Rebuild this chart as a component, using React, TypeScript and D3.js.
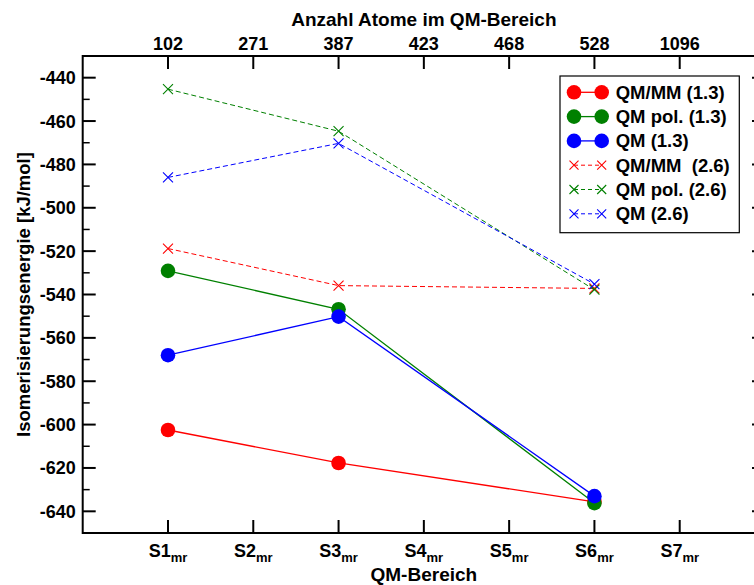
import React from "react";
import * as d3 from "d3";

// QM regions (bottom axis) and atom counts (top axis)
const regions = ["S1", "S2", "S3", "S4", "S5", "S6", "S7"];
const atomCounts = ["102", "271", "387", "423", "468", "528", "1096"];
const yTicks = [-440, -460, -480, -500, -520, -540, -560, -580, -600, -620, -640];

// isomerisation energies (kJ/mol) at S1, S3, S6
const dataRegions = [1, 3, 6];
const qmmm13 = [-602.5, -617.7, -635.6];
const qmpol13 = [-529.1, -546.8, -636.2];
const qm13 = [-568.0, -550.2, -633.0];
const qmmm26 = [-518.8, -535.9, -537.2];
const qmpol26 = [-445.3, -464.7, -537.8];
const qm26 = [-486.0, -470.3, -535.2];

const series = [
  { name: "QM/MM (1.3)", values: qmmm13, color: "#ff0000", dashed: false },
  { name: "QM pol. (1.3)", values: qmpol13, color: "#008000", dashed: false },
  { name: "QM (1.3)", values: qm13, color: "#0000ff", dashed: false },
  { name: "QM/MM  (2.6)", values: qmmm26, color: "#ff0000", dashed: true },
  { name: "QM pol. (2.6)", values: qmpol26, color: "#008000", dashed: true },
  { name: "QM (2.6)", values: qm26, color: "#0000ff", dashed: true },
];

const W = 754;
const H = 585;
const FONT = "'Liberation Sans', Arial, sans-serif";

export default function App() {
  const x = d3.scaleLinear().domain([0, 8]).range([82.7, 765]);
  const y = d3.scaleLinear().domain([-650, -430]).range([533, 56]);
  const minorTicks = d3.range(-650, -429, 10).filter((v) => v % 20 !== 0);
  const line = d3
    .line<[number, number]>()
    .x((d) => x(d[0]))
    .y((d) => y(d[1]));

  const solid = series.filter((s) => !s.dashed);
  const dashed = series.filter((s) => s.dashed);
  const [x0, x1] = x.range();
  const [yb, yt] = y.range();

  const cross = (cx: number, cy: number, r: number, color: string, key: string) => (
    <path
      key={key}
      d={`M${cx - r},${cy - r}L${cx + r},${cy + r}M${cx - r},${cy + r}L${cx + r},${cy - r}`}
      stroke={color}
      strokeWidth={1.1}
      fill="none"
    />
  );

  return (
    <svg
      width={W}
      height={H}
      style={{ position: "absolute", left: 0, top: 0, display: "block" }}
      fontFamily={FONT}
      fontWeight="bold"
    >
      <rect width={W} height={H} fill="#fff" />

      {/* dashed series (2.6) */}
      {dashed.map((s) => (
        <g key={s.name}>
          <path
            d={line(dataRegions.map((r, i) => [r, s.values[i]]) as [number, number][]) || ""}
            fill="none"
            stroke={s.color}
            strokeWidth={1}
            strokeDasharray="5,3"
          />
          {dataRegions.map((r, i) => cross(x(r), y(s.values[i]), 5, s.color, `${s.name}-${i}`))}
        </g>
      ))}

      {/* solid series (1.3) */}
      {solid.map((s) => (
        <g key={s.name}>
          <path
            d={line(dataRegions.map((r, i) => [r, s.values[i]]) as [number, number][]) || ""}
            fill="none"
            stroke={s.color}
            strokeWidth={1.3}
          />
          {dataRegions.map((r, i) => (
            <circle key={i} cx={x(r)} cy={y(s.values[i])} r={7.3} fill={s.color} />
          ))}
        </g>
      ))}

      {/* frame */}
      <rect x={x0} y={yt} width={x1 - x0} height={yb - yt} fill="none" stroke="#000" strokeWidth={2} />

      {/* left / right y ticks */}
      {yTicks.map((v) => (
        <g key={v}>
          <line x1={x0} x2={x0 + 13} y1={y(v)} y2={y(v)} stroke="#000" strokeWidth={2} />
          <line x1={x1} x2={x1 - 13} y1={y(v)} y2={y(v)} stroke="#000" strokeWidth={2} />
          <text x={x0 - 7} y={y(v) + 6.5} textAnchor="end" fontSize={18}>
            {v}
          </text>
        </g>
      ))}
      {minorTicks.map((v) => (
        <g key={`m${v}`}>
          <line x1={x0} x2={x0 + 7} y1={y(v)} y2={y(v)} stroke="#000" strokeWidth={1.5} />
          <line x1={x1} x2={x1 - 7} y1={y(v)} y2={y(v)} stroke="#000" strokeWidth={1.5} />
        </g>
      ))}

      {/* bottom and top x ticks */}
      {regions.map((r, i) => (
        <g key={r}>
          <line x1={x(i + 1)} x2={x(i + 1)} y1={yb} y2={yb - 13} stroke="#000" strokeWidth={2} />
          <line x1={x(i + 1)} x2={x(i + 1)} y1={yt} y2={yt + 13} stroke="#000" strokeWidth={2} />
          <text x={x(i + 1)} y={557} textAnchor="middle" fontSize={18}>
            {r}
            <tspan fontSize={13} dy={5}>
              mr
            </tspan>
          </text>
          <text x={x(i + 1)} y={50} textAnchor="middle" fontSize={18}>
            {atomCounts[i]}
          </text>
        </g>
      ))}

      {/* axis titles */}
      <text x={(x0 + x1) / 2} y={581} textAnchor="middle" fontSize={19}>
        QM-Bereich
      </text>
      <text x={(x0 + x1) / 2} y={26} textAnchor="middle" fontSize={19}>
        Anzahl Atome im QM-Bereich
      </text>
      <text
        transform={`translate(30,${(yt + yb) / 2}) rotate(-90)`}
        textAnchor="middle"
        fontSize={18.5}
      >
        Isomerisierungsenergie [kJ/mol]
      </text>

      {/* legend */}
      <g>
        <rect x={560} y={76} width={179.3} height={156.7} fill="#fff" stroke="#000" strokeWidth={1.2} />
        {series.map((s, i) => {
          const cy = 92.3 + i * 24.3;
          return (
            <g key={s.name}>
              <line
                x1={574}
                x2={601.7}
                y1={cy}
                y2={cy}
                stroke={s.color}
                strokeWidth={s.dashed ? 1 : 1.3}
                strokeDasharray={s.dashed ? "4,3" : undefined}
              />
              {s.dashed ? (
                <>
                  {cross(574, cy, 4.5, s.color, "a")}
                  {cross(601.7, cy, 4.5, s.color, "b")}
                </>
              ) : (
                <>
                  <circle cx={574} cy={cy} r={7.3} fill={s.color} />
                  <circle cx={601.7} cy={cy} r={7.3} fill={s.color} />
                </>
              )}
              <text x={615.7} y={cy + 6.5} fontSize={18.5} style={{ whiteSpace: "pre" }}>
                {s.name}
              </text>
            </g>
          );
        })}
      </g>
    </svg>
  );
}
